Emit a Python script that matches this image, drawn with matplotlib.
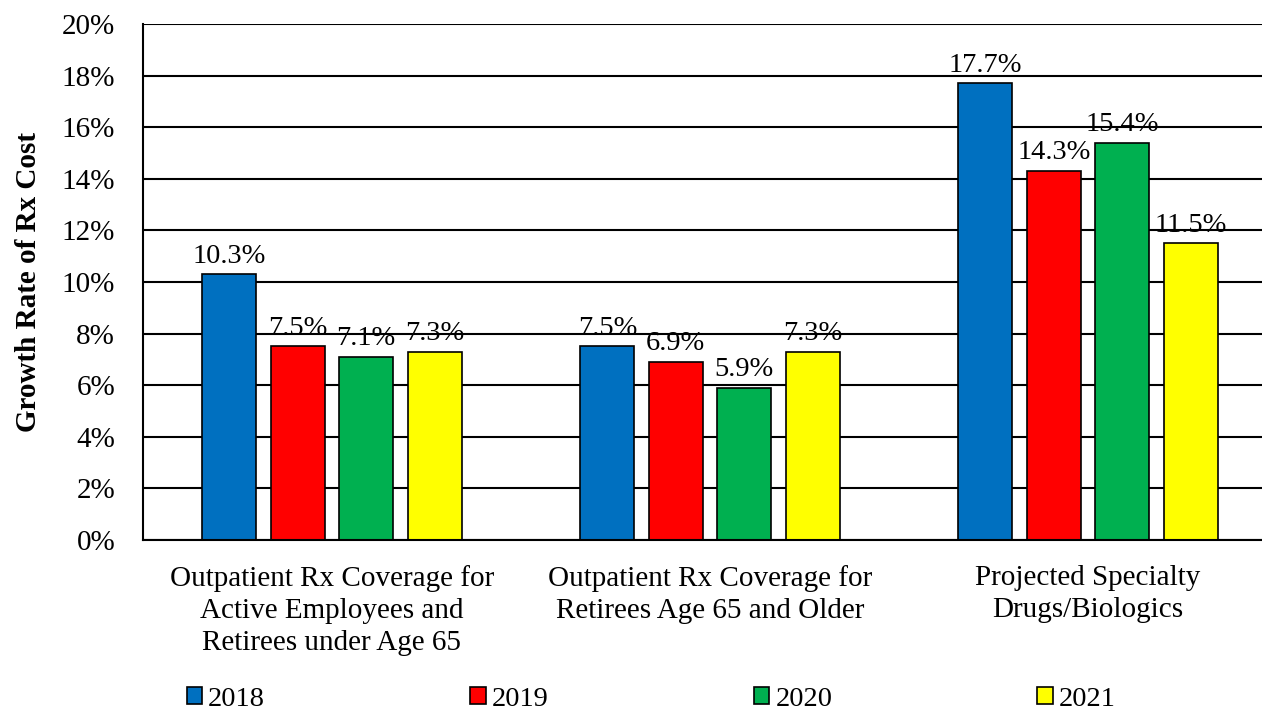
import numpy as np
import matplotlib.pyplot as plt
from matplotlib.patches import Patch
from matplotlib.ticker import PercentFormatter

plt.rcParams['font.family'] = ['Liberation Serif', 'DejaVu Serif']

categories = ['Outpatient Rx Coverage for\nActive Employees and\nRetirees under Age 65',
              'Outpatient Rx Coverage for\nRetirees Age 65 and Older',
              'Projected Specialty\nDrugs/Biologics']
years = ['2018', '2019', '2020', '2021']
rate_2018 = [10.3, 7.5, 17.7]
rate_2019 = [7.5, 6.9, 14.3]
rate_2020 = [7.1, 5.9, 15.4]
rate_2021 = [7.3, 7.3, 11.5]
colors = ['#0070C0', '#FF0000', '#00B050', '#FFFF00']

series = [rate_2018, rate_2019, rate_2020, rate_2021]

fig = plt.figure(figsize=(12.62, 7.15), dpi=100)
ax = fig.add_axes([0.1133, 0.2448, 0.8986, 0.7217])

x = np.arange(len(categories))
step = 0.181
width = 0.143
for i, (vals, col) in enumerate(zip(series, colors)):
    pos = x + (i - 1.5) * step
    bars = ax.bar(pos, vals, width, color=col, edgecolor='black', linewidth=1.2, zorder=3)
    for b, v in zip(bars, vals):
        ax.annotate(f'{v:.1f}%', (b.get_x() + b.get_width() / 2, v),
                    xytext=(0, 4), textcoords='offset points',
                    ha='center', va='bottom', fontsize=20.5, zorder=4)

ax.set_xlim(-0.5, 2.5)
ax.set_ylim(0, 20)
ax.set_yticks(np.arange(0, 21, 2))
ax.yaxis.set_major_formatter(PercentFormatter(decimals=0))
ax.grid(axis='y', color='black', linewidth=1.5, zorder=0)
ax.set_xticks(x)
ax.set_xticklabels(categories, fontsize=21, linespacing=1.3, va='top')
ax.tick_params(axis='x', length=0, pad=18)
ax.tick_params(axis='y', length=0, pad=20, labelsize=21)
for s in ['top', 'right']:
    ax.spines[s].set_visible(False)
for s in ['left', 'bottom']:
    ax.spines[s].set_linewidth(1.5)
    ax.spines[s].set_zorder(5)

ax.set_ylabel('Growth Rate of Rx Cost', fontsize=21, fontweight='bold', labelpad=14)

handles = [Patch(facecolor=c, edgecolor='black', linewidth=1.2) for c in colors]
fig.legend(handles, years, loc='center', bbox_to_anchor=(0.516, 0.022), ncol=4,
           frameon=False, fontsize=20.5, handlelength=0.54, handleheight=0.54,
           handletextpad=0.22, columnspacing=7.2)

fig.savefig('out.png', dpi=100)
